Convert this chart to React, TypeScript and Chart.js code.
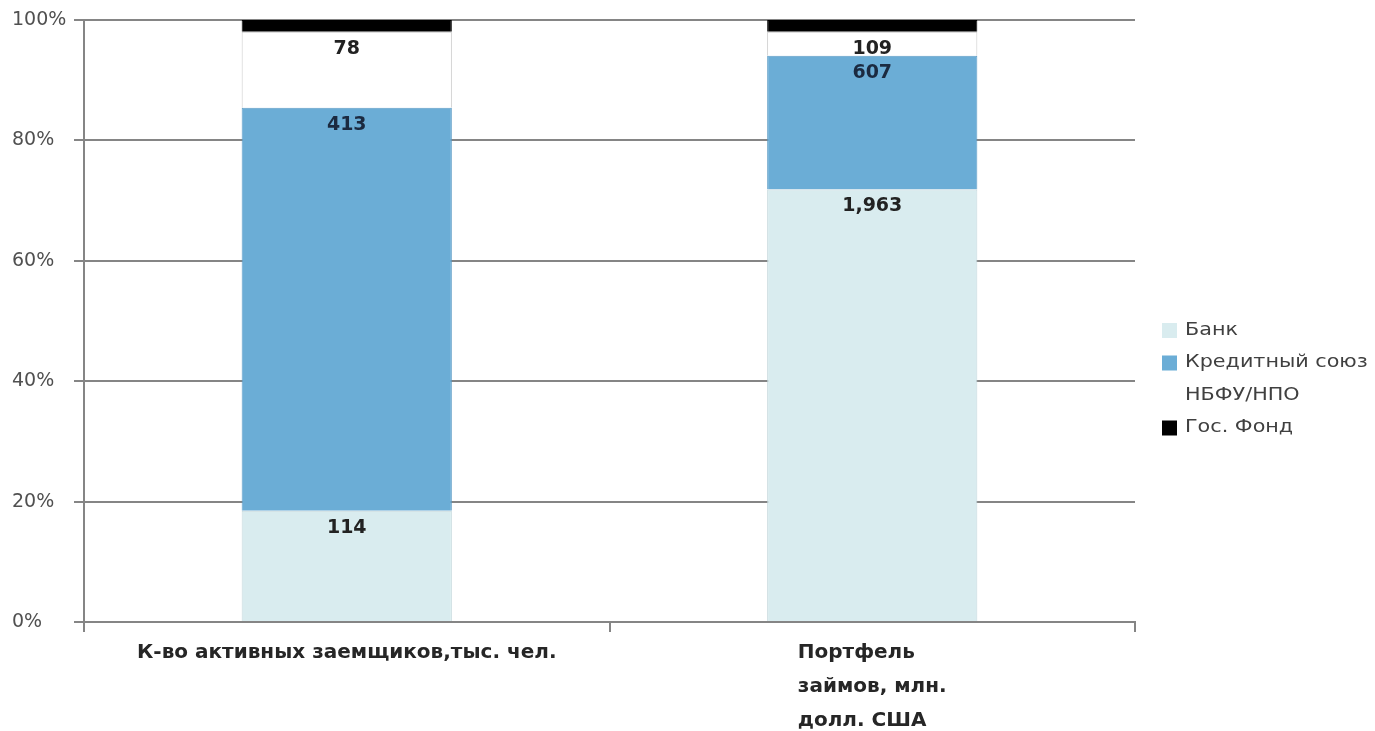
import React, { useEffect, useRef } from "react";
import { Chart, registerables } from "chart.js";

Chart.register(...registerables);

const categories: string[][] = [
  ["К-во активных заемщиков,тыс. чел."],
  ["Портфель", "займов, млн.", "долл. США"],
];
const seriesNames = ["Банк", "Кредитный союз", "НБФУ/НПО", "Гос. Фонд"];
const bank = [114, 1963];
const creditUnion = [413, 607];
const nbfu = [78, 109];
const govFund = [12, 53];
const showLabel = [true, true, true, false];
const yTicks = [0, 20, 40, 60, 80, 100];

const fills = ["#d9ecef", "#6badd6", "#ffffff", "#000000"];
const borders = ["#c4d8dc", "#5e9dc6", "#c8c8c8", "#000000"];

const FONT = "'DejaVu Sans', sans-serif";

export default function App() {
  const ref = useRef<HTMLCanvasElement | null>(null);

  useEffect(() => {
    if (!ref.current) return;
    const raw = [bank, creditUnion, nbfu, govFund];
    const totals = categories.map((_, i) => raw.reduce((s, arr) => s + arr[i], 0));
    const pct = raw.map((arr) => arr.map((v, i) => (v / totals[i]) * 100));

    const dataLabels = {
      id: "dataLabels",
      afterDatasetsDraw(chart: any) {
        const ctx = chart.ctx;
        ctx.save();
        ctx.font = `bold 19px ${FONT}`;
        ctx.textAlign = "center";
        ctx.textBaseline = "middle";
        chart.data.datasets.forEach((ds: any, di: number) => {
          if (!showLabel[di]) return;
          const meta = chart.getDatasetMeta(di);
          meta.data.forEach((el: any, i: number) => {
            const v = raw[di][i];
            ctx.fillStyle = di === 1 ? "#1b2a40" : "#222222";
            ctx.fillText(v.toLocaleString("en-US"), el.x, el.y + 17);
          });
        });
        ctx.restore();
      },
    };

    const xLabels = {
      id: "xLabels",
      afterDraw(chart: any) {
        const ctx = chart.ctx;
        const xs = chart.scales.x;
        const top = chart.chartArea.bottom;
        ctx.save();
        ctx.font = `bold 20px ${FONT}`;
        ctx.fillStyle = "#262626";
        ctx.textBaseline = "middle";
        ctx.textAlign = "left";
        categories.forEach((lines, i) => {
          const cx = xs.getPixelForValue(i);
          const maxW = Math.max(...lines.map((l) => ctx.measureText(l).width));
          const sx = cx - maxW / 2;
          lines.forEach((l, li) => {
            ctx.fillText(l, sx, top + 31 + li * 34);
          });
        });
        ctx.restore();
      },
    };

    const legendPlugin = {
      id: "customLegend",
      afterDraw(chart: any) {
        const ctx = chart.ctx;
        const left = chart.chartArea.right + 27;
        ctx.save();
        ctx.font = `18px ${FONT}`;
        ctx.textBaseline = "middle";
        ctx.textAlign = "left";
        chart.data.datasets.forEach((ds: any, i: number) => {
          const cy = 330 + i * 32.5;
          ctx.fillStyle = ds.backgroundColor;
          ctx.fillRect(left, cy - 7, 15, 15);
          ctx.fillStyle = "#404040";
          ctx.save();
          ctx.translate(left + 23, cy);
          ctx.scale(1.15, 1);
          ctx.fillText(ds.label, 0, 0);
          ctx.restore();
        });
        ctx.restore();
      },
    };

    const chart = new Chart(ref.current, {
      type: "bar",
      data: {
        labels: categories,
        datasets: seriesNames.map((name, di) => ({
          label: name,
          data: pct[di],
          backgroundColor: fills[di],
          borderColor: borders[di],
          borderWidth: 1,
          barPercentage: 0.4,
          categoryPercentage: 1,
        })),
      },
      options: {
        animation: false,
        responsive: true,
        maintainAspectRatio: false,
        layout: { padding: { top: 20, right: 240, bottom: 99, left: 12 } },
        plugins: {
          legend: { display: false },
          tooltip: { enabled: false },
        },
        scales: {
          x: {
            stacked: true,
            offset: true,
            ticks: { display: false },
            grid: {
              display: true,
              offset: true,
              drawOnChartArea: false,
              drawTicks: true,
              tickLength: 10,
              color: "#858585",
              lineWidth: 2,
            },
            border: { display: true, color: "#858585", width: 2 },
          },
          y: {
            stacked: true,
            min: 0,
            max: 100,
            afterBuildTicks(scale: any) {
              scale.ticks = yTicks.map((v) => ({ value: v }));
            },
            afterFit(scale: any) {
              scale.width = 72;
            },
            ticks: {
              padding: 0,
              crossAlign: "far",
              color: "#505050",
              font: { family: FONT, size: 19 },
              callback: (v: any) => `${v}%`,
            },
            grid: {
              color: "#858585",
              lineWidth: 2,
              drawTicks: true,
              tickLength: 10,
            },
            border: { display: true, color: "#858585", width: 2 },
          },
        },
      },
      plugins: [dataLabels, xLabels, legendPlugin],
    });
    return () => chart.destroy();
  }, []);

  return (
    <div style={{ position: "fixed", left: 0, top: 0, width: "100vw", height: "100vh", background: "#fff" }}>
      <canvas ref={ref} />
    </div>
  );
}
